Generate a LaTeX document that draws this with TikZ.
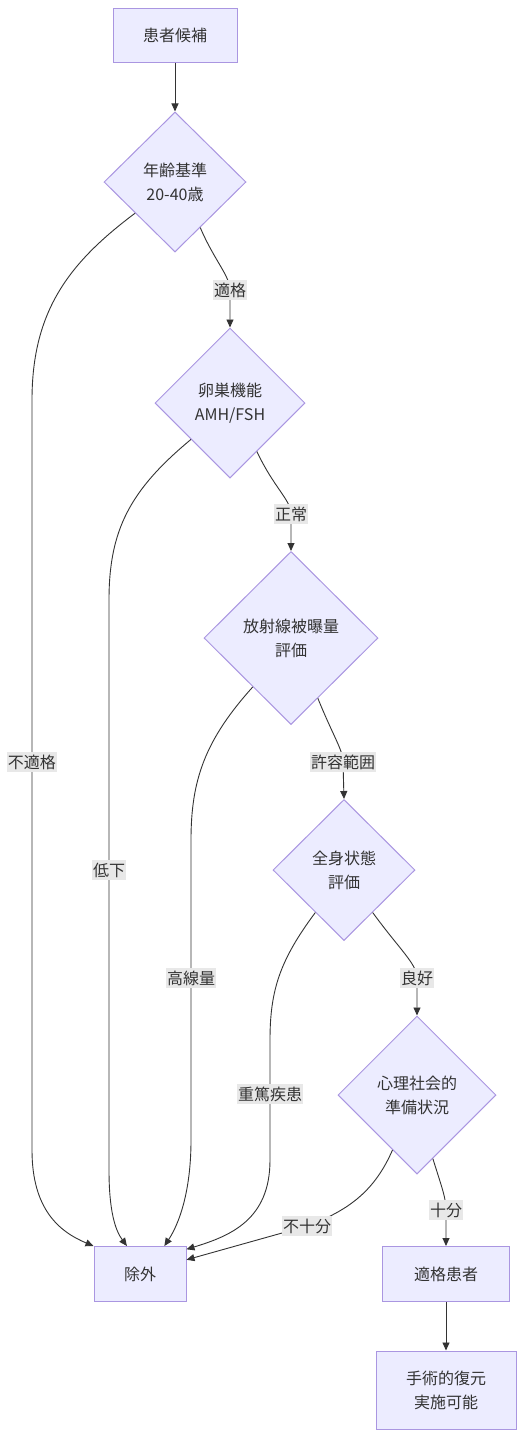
\documentclass[tikz,border=0pt]{standalone}
\usepackage{fontspec}
\setmainfont{Noto Sans CJK JP}
\definecolor{mmfill}{RGB}{236,236,255}
\definecolor{mmstroke}{RGB}{170,150,225}
\definecolor{mmline}{RGB}{51,51,51}
\definecolor{mmlabel}{RGB}{232,232,232}
\usetikzlibrary{arrows.meta,shapes.geometric}

\begin{document}
\begin{tikzpicture}[x=1pt,y=-1pt,
  box/.style={draw=mmstroke,fill=mmfill,line width=1pt,align=center,
    font=\fontsize{16}{24}\selectfont,text=mmline},
  decision/.style={box,diamond,inner sep=0pt},
  arr/.style={-{Triangle[length=8pt,width=7pt]},line width=0.9pt,mmline},
  lbl/.style={fill=mmlabel,inner xsep=1pt,inner ysep=3pt,
    font=\fontsize{16}{24}\selectfont,text=mmline}
]
  \useasboundingbox (0,0) rectangle (525,1438);

  % Nodes
  \node[box,minimum width=124pt,minimum height=54pt] (cand) at (175,35) {患者候補};
  \node[decision,minimum width=142pt,minimum height=140pt] (age) at (175,182) {年齢基準\\20-40歳};
  \node[decision,minimum width=150pt,minimum height=150pt] (ovary) at (230,403) {卵巣機能\\AMH/FSH};
  \node[decision,minimum width=174pt,minimum height=173pt] (rad) at (291,638) {放射線被曝量\\評価};
  \node[decision,minimum width=142pt,minimum height=141pt] (gen) at (344,870) {全身状態\\評価};
  \node[decision,minimum width=158pt,minimum height=158pt] (psy) at (417,1095) {心理社会的\\準備状況};
  \node[box,minimum width=92pt,minimum height=55pt] (excl) at (140,1274) {除外};
  \node[box,minimum width=127pt,minimum height=55pt] (elig) at (446,1274) {適格患者};
  \node[box,minimum width=140pt,minimum height=78pt] (surg) at (446,1390) {手術的復元\\実施可能};

  % Main path
  \draw[arr] (cand) -- (age);
  \draw[arr] (age.-61) .. controls (214,260) and (230,276) .. (230,290) node[lbl]{適格} -- (ovary.north);
  \draw[arr] (ovary.-61) .. controls (274,488) and (291,500) .. (291,514) node[lbl]{正常} -- (rad.north);
  \draw[arr] (rad.-66) .. controls (334,738) and (343,750) .. (343,762) node[lbl]{許容範囲} -- (gen.north);
  \draw[arr] (gen.-56) .. controls (400,950) and (417,964) .. (417,978) node[lbl]{良好} -- (psy.north);
  \draw[arr] (psy.-76) .. controls (442,1188) and (446,1198) .. (446,1210) node[lbl]{十分} -- (elig.north);
  \draw[arr] (elig) -- (surg);

  % Exclusion paths
  \draw[arr] (age.218) .. controls (70,262) and (32,310) .. (32,400)
    -- (32,762) node[lbl]{不適格} -- (32,1150)
    .. controls (32,1210) and (60,1232) .. (excl.north west);
  \draw[arr] (ovary.223) .. controls (130,490) and (109,530) .. (109,600)
    -- (109,870) node[lbl]{低下} -- (109,1170)
    .. controls (109,1210) and (115,1230) .. (excl.115);
  \draw[arr] (rad.232) .. controls (205,740) and (191,780) .. (191,840)
    -- (191,978) node[lbl]{高線量} -- (191,1140)
    .. controls (191,1200) and (175,1230) .. (excl.49);
  \draw[arr] (gen.236) .. controls (280,960) and (270,990) .. (270,1040)
    -- (270,1094) node[lbl]{重篤疾患} -- (270,1160)
    .. controls (270,1220) and (230,1236) .. (excl.28);
  \draw[arr] (psy.246) .. controls (375,1190) and (350,1210) .. (307,1226)
    node[lbl]{不十分} -- (excl.17);
\end{tikzpicture}
\end{document}
